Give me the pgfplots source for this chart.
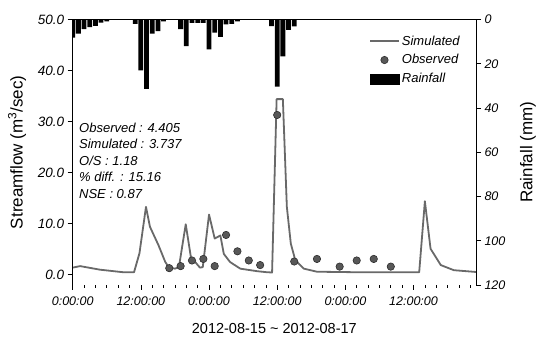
\documentclass[border=0pt]{standalone}
\usepackage{pgfplots}
\pgfplotsset{compat=1.18}
\usepackage{fontspec}
\setmainfont{Liberation Sans}
\setsansfont{Liberation Sans}
\definecolor{simcol}{RGB}{105,105,105}
\definecolor{obsfill}{RGB}{88,88,88}
\definecolor{obsdraw}{RGB}{45,45,45}
\begin{document}
\begin{tikzpicture}[x=1pt,y=1pt]
\path[use as bounding box] (0,0) rectangle (536,337);
% ---------- rainfall axis (right, reversed) ----------
\begin{axis}[
  name=rain,
  at={(72.7pt,52pt)}, anchor=south west,
  width=403.3pt, height=265.5pt, scale only axis,
  xmin=0, xmax=71, ymin=0, ymax=120, y dir=reverse,
  axis x line=none, axis y line*=right, axis line style={draw=none},
  ytick={0,20,...,120},
  tick align=outside, major tick length=5pt,
  tick style={black, line width=0.6pt},
  /pgf/number format/assume math mode=true,
  yticklabel style={font=\itshape\fontsize{12.5}{12.5}\selectfont},
  ylabel={Rainfall (mm)},
  ylabel style={font=\fontsize{17}{17}\selectfont, at={(axis description cs:1.129,0.5)}, anchor=center},
]
\addplot[ybar, bar width=0.84, fill=black, draw=none] coordinates {
(0,8.2) (1,6.4) (2,4.4) (3,3.4) (4,2.9) (5,1.4) (6,0.9)
(11,2.0) (12,23.0) (13,31.3) (14,6.4) (15,5.2) (16,0.8)
(19,4.4) (20,12.0) (21,1.5) (22,1.5) (23,1.5) (24,13.5) (25,5.9) (26,7.9) (27,2.2) (28,2.0) (29,0.8)
(35,3.0) (36,30.3) (37,16.7) (38,4.7) (39,3.1)
};
\end{axis}
% ---------- streamflow axis (left) ----------
\begin{axis}[
  name=flow,
  at={(72.7pt,52pt)}, anchor=south west,
  width=403.3pt, height=265.5pt, scale only axis,
  xmin=0, xmax=71, ymin=-2, ymax=50,
  axis x line*=bottom, axis y line*=left, axis line style={draw=none},
  xtick={0,12,...,60},
  xticklabels={0:00:00,12:00:00,0:00:00,12:00:00,0:00:00,12:00:00},
  minor xtick={2,4,...,70},
  ytick={0,10,...,50},
  tick align=outside, major tick length=5pt, minor tick length=3pt,
  tick style={black, line width=0.6pt},
  /pgf/number format/assume math mode=true,
  yticklabel style={font=\itshape\fontsize{13.5}{13.5}\selectfont, /pgf/number format/.cd, fixed, fixed zerofill, precision=1},
  xticklabel style={font=\itshape\fontsize{12.5}{12.5}\selectfont, yshift=-3.5pt},
  xlabel={2012-08-15 \textasciitilde\ 2012-08-17},
  xlabel style={font=\fontsize{14.5}{14.5}\selectfont, at={(axis description cs:0.5,-0.165)}, anchor=center, inner sep=1pt},
  ylabel={Streamflow (m\textsuperscript{3}/sec)},
  ylabel style={font=\fontsize{17}{17}\selectfont, at={(axis description cs:-0.138,0.5)}, anchor=center},
  legend style={at={(axis description cs:0.727,0.955)}, anchor=north west, draw=none, fill=none,
    font=\itshape\fontsize{13}{13}\selectfont, row sep=4pt},
  legend cell align=left,
]
\addplot[simcol, line width=1.8pt, line join=round,
  legend image code/.code={\draw[simcol, line width=1.8pt] (0pt,0pt) -- (29pt,0pt);}]
coordinates {
(0,1.4) (1.3,1.7) (4.8,1.0) (8.9,0.5) (10.8,0.5) (11.75,4.2) (12.9,13.3) (13.6,9.4)
(15.1,5.8) (16.3,2.5) (16.9,1.5) (18.0,1.2) (18.7,1.5) (19.9,9.9) (20.8,3.5) (22.4,1.4) (22.9,1.5)
(24.0,11.8) (25.0,7.1) (26.0,7.7) (26.6,4.1) (27.7,2.5) (29.5,1.2) (32.5,0.7) (34.2,0.5)
(35.1,0.45) (35.9,34.4) (37.0,34.4) (37.7,13.3) (38.4,6.1) (39.2,2.8) (40.7,1.2) (43.0,0.6)
(50,0.5) (61.0,0.5) (62.0,14.4) (63.0,5.1) (64.8,1.9) (67.1,0.9) (71,0.55)
};
\addlegendentry{Simulated}
\addplot[only marks, mark=*, mark size=3.7pt, mark options={fill=obsfill, draw=obsdraw, line width=0.6pt},
  legend image code/.code={\filldraw[fill=obsfill, draw=obsdraw, line width=0.6pt] (14.5pt,0pt) circle (3.7pt);}]
coordinates {
(17,1.3) (19,1.7) (21,2.8) (23,3.1) (25,1.7) (27,7.8) (29,4.6) (31,2.8) (33,1.9)
(36,31.3) (39,2.6) (43,3.1) (47,1.6) (50,2.8) (53,3.1) (56,1.6)
};
\addlegendentry{Observed}
\addlegendimage{legend image code/.code={\fill[black] (0pt,-5pt) rectangle (29pt,5pt);}}
\addlegendentry{Rainfall}
\node[anchor=base west, inner sep=0pt, font=\itshape\fontsize{13}{13}\selectfont] at (rel axis cs:0.0156,0.5751) {Observed : 4.405};
\node[anchor=base west, inner sep=0pt, font=\itshape\fontsize{13}{13}\selectfont] at (rel axis cs:0.0156,0.5130) {Simulated : 3.737};
\node[anchor=base west, inner sep=0pt, font=\itshape\fontsize{13}{13}\selectfont] at (rel axis cs:0.0156,0.4508) {O/S : 1.18};
\node[anchor=base west, inner sep=0pt, font=\itshape\fontsize{13}{13}\selectfont] at (rel axis cs:0.0156,0.3887) {\% diff. : 15.16};
\node[anchor=base west, inner sep=0pt, font=\itshape\fontsize{13}{13}\selectfont] at (rel axis cs:0.0156,0.3266) {NSE : 0.87};
\end{axis}
\draw[black, line width=0.8pt] (flow.south west) -- (flow.north west) -- (flow.north east) -- (flow.south east);
\end{tikzpicture}
\end{document}
